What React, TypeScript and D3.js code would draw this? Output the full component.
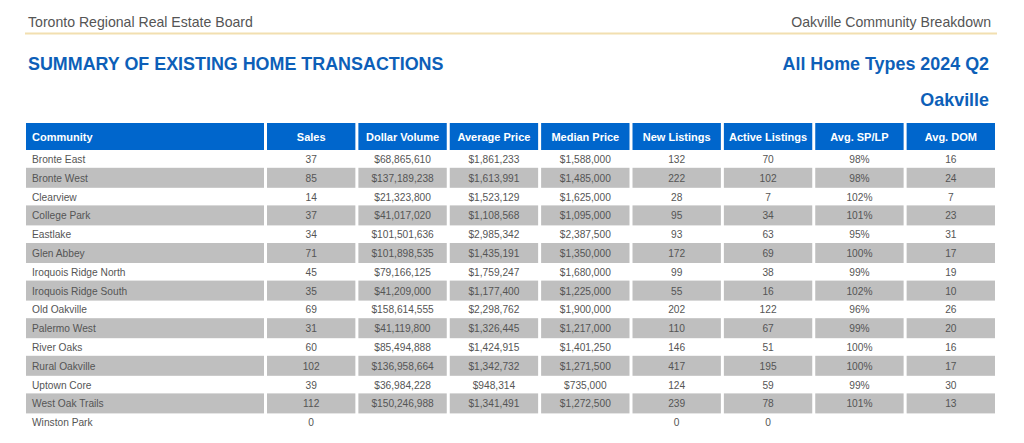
import React from "react";
import * as d3 from "d3";

const columns = ["Community", "Sales", "Dollar Volume", "Average Price", "Median Price", "New Listings", "Active Listings", "Avg. SP/LP", "Avg. DOM"];
const communities = ["Bronte East", "Bronte West", "Clearview", "College Park", "Eastlake", "Glen Abbey", "Iroquois Ridge North", "Iroquois Ridge South", "Old Oakville", "Palermo West", "River Oaks", "Rural Oakville", "Uptown Core", "West Oak Trails", "Winston Park"];
const sales = [37, 85, 14, 37, 34, 71, 45, 35, 69, 31, 60, 102, 39, 112, 0];
const dollarVolume = [68865610, 137189238, 21323800, 41017020, 101501636, 101898535, 79166125, 41209000, 158614555, 41119800, 85494888, 136958664, 36984228, 150246988, null];
const averagePrice = [1861233, 1613991, 1523129, 1108568, 2985342, 1435191, 1759247, 1177400, 2298762, 1326445, 1424915, 1342732, 948314, 1341491, null];
const medianPrice = [1588000, 1485000, 1625000, 1095000, 2387500, 1350000, 1680000, 1225000, 1900000, 1217000, 1401250, 1271500, 735000, 1272500, null];
const newListings = [132, 222, 28, 95, 93, 172, 99, 55, 202, 110, 146, 417, 124, 239, 0];
const activeListings = [70, 102, 7, 34, 63, 69, 38, 16, 122, 67, 51, 195, 59, 78, 0];
const spLp = [98, 98, 102, 101, 95, 100, 99, 102, 96, 99, 100, 100, 99, 101, null];
const dom = [16, 24, 7, 23, 31, 17, 19, 10, 26, 20, 16, 17, 30, 13, null];

const money = (v: number | null) => (v == null ? "" : "$" + d3.format(",")(v));
const num = (v: number | null) => (v == null ? "" : String(v));
const pct = (v: number | null) => (v == null ? "" : v + "%");

const FONT = "'Liberation Sans', Arial, Helvetica, sans-serif";

export default function App() {
  const W = 1024, H = 443;
  const tableLeft = 26, tableRight = 995;
  const firstW = 238, gap = 3;
  const otherW = (tableRight - tableLeft - firstW - gap * 8) / 8;
  const colX: number[] = [];
  const colW: number[] = [];
  let x = tableLeft;
  columns.forEach((_, i) => {
    const w = i === 0 ? firstW : otherW;
    colX.push(x);
    colW.push(w);
    x += w + gap;
  });

  const headerTop = 123, headerH = 27;
  const y = d3.scaleBand<number>().domain(d3.range(communities.length)).range([150, 150 + 18.8 * communities.length]).paddingInner(0);

  const rows = communities.map((c, i) => [
    c,
    num(sales[i]),
    money(dollarVolume[i]),
    money(averagePrice[i]),
    money(medianPrice[i]),
    num(newListings[i]),
    num(activeListings[i]),
    pct(spLp[i]),
    num(dom[i]),
  ]);

  const blue = "#0066cc";
  const titleBlue = "#0d5fb8";

  return (
    <svg width={W} height={H} style={{ position: "absolute", left: 0, top: 0, background: "#fff" }} fontFamily={FONT}>
      <rect width={W} height={H} fill="#fff" />
      <text x={28} y={27} fontSize={14.1} fill="#555">Toronto Regional Real Estate Board</text>
      <text x={991} y={27} fontSize={14.1} fill="#555" textAnchor="end">Oakville Community Breakdown</text>
      <line x1={25} x2={997} y1={33.5} y2={33.5} stroke="#f2dfb0" strokeWidth={2} />
      <text x={28} y={70} fontSize={17.9} fontWeight="bold" fill={titleBlue}>SUMMARY OF EXISTING HOME TRANSACTIONS</text>
      <text x={989} y={70} fontSize={17.9} fontWeight="bold" fill={titleBlue} textAnchor="end">All Home Types 2024 Q2</text>
      <text x={989} y={106} fontSize={17.9} fontWeight="bold" fill={titleBlue} textAnchor="end">Oakville</text>

      {columns.map((c, j) => (
        <g key={"h" + j}>
          <rect x={colX[j]} y={headerTop} width={colW[j]} height={headerH} fill={blue} />
          <text
            x={j === 0 ? colX[j] + 6 : colX[j] + colW[j] / 2}
            y={headerTop + headerH / 2 + 4}
            fontSize={11}
            fontWeight="bold"
            fill="#fff"
            textAnchor={j === 0 ? "start" : "middle"}
          >{c}</text>
        </g>
      ))}

      {rows.map((r, i) => (
        <g key={"r" + i}>
          {r.map((cell, j) => (
            <g key={j}>
              {i % 2 === 1 && (
                <rect x={colX[j]} y={y(i)! - 1} width={colW[j]} height={20} fill="#bfbfbf" />
              )}
              <text
                x={j === 0 ? colX[j] + 6 : colX[j] + colW[j] / 2}
                y={y(i)! + y.bandwidth() / 2 + 3.6}
                fontSize={10.2}
                fill="#555"
                textAnchor={j === 0 ? "start" : "middle"}
              >{cell}</text>
            </g>
          ))}
        </g>
      ))}
    </svg>
  );
}
